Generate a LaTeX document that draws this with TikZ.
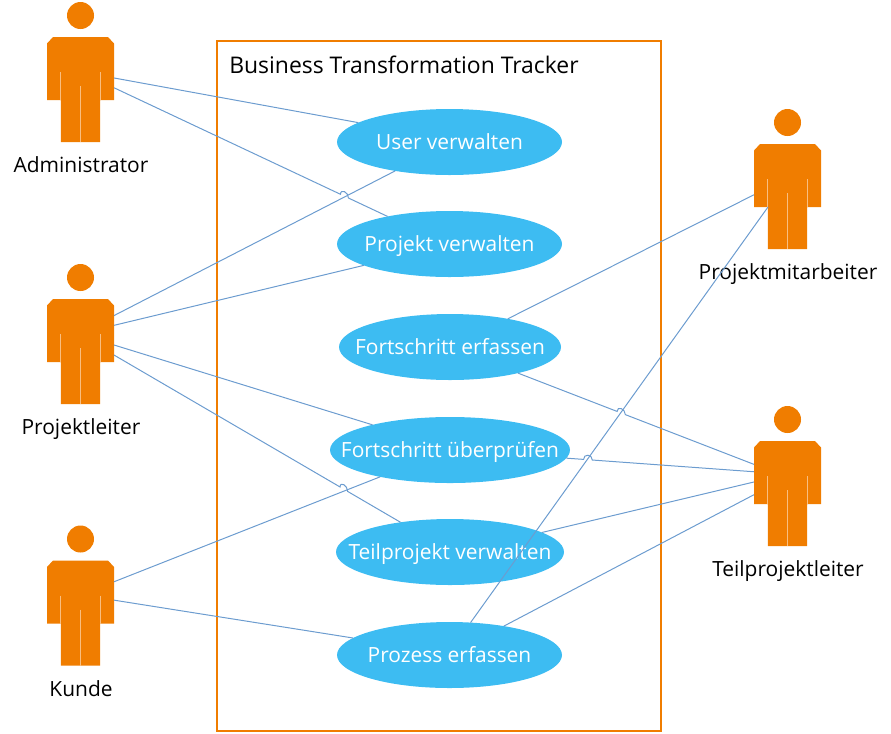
\documentclass[tikz,border=0pt]{standalone}
\usepackage{fontspec}
\setmainfont{Open Sans}
\usetikzlibrary{calc}
\usetikzlibrary{shapes.geometric}
\definecolor{actorfill}{HTML}{F07D00}
\definecolor{actorline}{HTML}{F9BE80}
\definecolor{casefill}{HTML}{3DBCF2}
\definecolor{assocline}{HTML}{6C9CCF}
\tikzset{
	actorbox/.style={minimum width=50.25pt, minimum height=78.75pt, inner sep=0pt, outer sep=0pt},
	actortext/.style={font=\fontsize{15.7}{18}\selectfont, text=black, inner sep=0pt, text height=11.2pt, text depth=0pt},
	usecase/.style={ellipse, fill=casefill, text=white, inner sep=0pt, outer sep=0pt,
		minimum height=49.5pt, font=\fontsize{15.7}{18}\selectfont, text height=11.2pt, text depth=0pt},
	assoc/.style={assocline, line width=0.75pt},
}
% keeps the text from widening its ellipse
\newcommand{\casetext}[1]{\makebox[0pt]{#1}}
% line with a small hop over the line it crosses
\newcommand{\hopline}[3]{
	\coordinate (hop) at ($(#1)!(#3)!(#2)$);
	\draw[assoc] (#1) -- ($(hop)!3.3pt!(#1)$) .. controls +(0,-6) and +(0,-6) .. ($(hop)!3.3pt!(#2)$) -- (#2);
}
\begin{document}
\begin{tikzpicture}[x=0.75pt, y=-0.75pt]
	\useasboundingbox (0,0) rectangle (891,733);

	\draw[actorfill, line width=1.5pt] (216.5,40.5) rectangle (660.5,731);
	\node[anchor=west, font=\fontsize{17.2}{20}\selectfont, inner sep=0pt] (title) at (229,65) {Business Transformation Tracker};

	% actors
	\foreach \name/\x/\y/\txt in {admin/80.5/89.5/Administrator, lead/80.5/351.5/Projektleiter,
		kunde/80.5/613/Kunde, mit/787.5/196.5/Projektmitarbeiter, teil/787.5/493.5/Teilprojektleiter} {
		\begin{scope}[shift={(\x,\y)}]
			\fill[actorfill] (0,-74) circle[radius=13.5];
			\fill[actorfill] (-27.5,-52.5) -- (27.5,-52.5) -- (33.5,-46) -- (33.5,10.5) -- (19.7,10.5) -- (19.7,52.5)
				-- (-19.7,52.5) -- (-19.7,10.5) -- (-33.5,10.5) -- (-33.5,-46) -- cycle;
			\draw[actorline, line width=0.6pt] (-19.7,-17.5) -- (-19.7,10.5) (19.7,-17.5) -- (19.7,10.5) (0,-3.5) -- (0,52.5);
			\node[actorbox] (\name) at (0,0) {};
			\node[actortext] (\name text) at (0.5,76) {\txt};
		\end{scope}
	}

	% use cases
	\node[usecase, minimum width=168.75pt] (user) at (449.5,142) {\casetext{User verwalten}};
	\node[usecase, minimum width=168.75pt] (projekt) at (449.5,244) {\casetext{Projekt verwalten}};
	\node[usecase, minimum width=166.5pt] (erfassen) at (450,347) {\casetext{Fortschritt erfassen}};
	\node[usecase, minimum width=180pt] (pruefen) at (450,450) {\casetext{Fortschritt überprüfen}};
	\node[usecase, minimum width=171pt] (teilprojekt) at (450,552) {\casetext{Teilprojekt verwalten}};
	\node[usecase, minimum width=168.75pt] (prozess) at (449.5,655) {\casetext{Prozess erfassen}};

	\coordinate (mitarm) at (768,207);
	\coordinate (hopA) at (346,193);
	\coordinate (hopB) at (344,489);
	\coordinate (hopC) at (622,411);
	\coordinate (hopD) at (588,459);

	% associations
	\draw[assoc] (admin.19) -- (user.168);
	\hopline{admin.3}{projekt.156}{hopA}
	\draw[assoc] (lead.47.5) -- (user.208.5);
	\draw[assoc] (lead.38) -- (projekt.194);
	\draw[assoc] (lead.11) -- (pruefen.162);
	\hopline{lead.354}{teilprojekt.149}{hopB}
	\draw[assoc] (kunde.43) -- (pruefen.201);
	\draw[assoc] (kunde.21) -- (prozess.170.5);
	\draw[assoc] (mit.177) -- (erfassen.26);
	\draw[assoc] (mitarm) -- (prozess.57.4);
	\hopline{erfassen.339.6}{teil.139.6}{hopC}
	\hopline{pruefen.356}{teil.147.3}{hopD}
	\draw[assoc] (teilprojekt.12.5) -- (teil.161);
	\draw[assoc] (prozess.28.5) -- (teil.182.6);
\end{tikzpicture}
\end{document}
